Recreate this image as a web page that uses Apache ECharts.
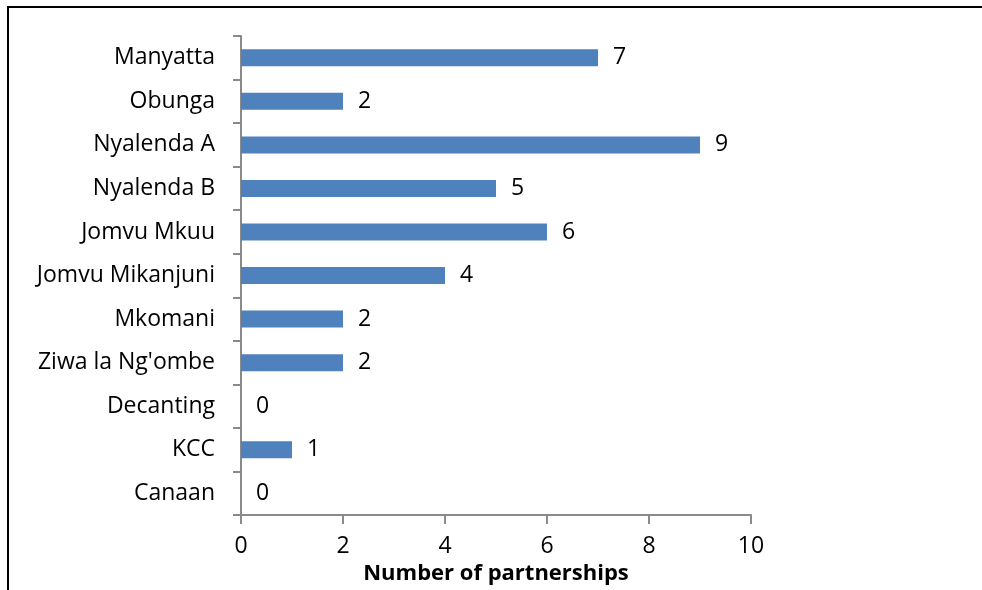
<!DOCTYPE html>
<html>
<head>
<meta charset="utf-8">
<script src="https://cdn.jsdelivr.net/npm/echarts@6/dist/echarts.min.js"></script>
<style>
html,body{margin:0;padding:0;background:#fff;}
#chart{width:982px;height:590px;}
</style>
</head>
<body>
<div id="chart"></div>
<script>
const categories = ["Manyatta", "Obunga", "Nyalenda A", "Nyalenda B", "Jomvu Mkuu", "Jomvu Mikanjuni", "Mkomani", "Ziwa la Ng'ombe", "Decanting", "KCC", "Canaan"];
const partnerships = [7, 2, 9, 5, 6, 4, 2, 2, 0, 1, 0];
const xTicks = [0, 2, 4, 6, 8, 10];
const xTitle = "Number of partnerships";

const font = "'Open Sans', 'Noto Sans', sans-serif";
const axisGray = '#8a8a8a';

const chart = echarts.init(document.getElementById('chart'), null, {renderer: 'canvas'});
chart.setOption({
  animation: false,
  backgroundColor: '#fff',
  grid: {left: 241, right: 231, top: 36, bottom: 74, containLabel: false},
  xAxis: {
    type: 'value',
    min: xTicks[0],
    max: xTicks[xTicks.length - 1],
    interval: xTicks[1] - xTicks[0],
    name: xTitle,
    nameLocation: 'middle',
    nameGap: 44,
    nameTextStyle: {fontFamily: font, fontSize: 22, fontWeight: 'bold', color: '#000'},
    axisLine: {show: true, lineStyle: {color: axisGray, width: 2}},
    axisTick: {show: true, length: 9, lineStyle: {color: axisGray, width: 2}},
    axisLabel: {fontFamily: font, fontSize: 23, color: '#000', margin: 20},
    splitLine: {show: false}
  },
  yAxis: {
    type: 'category',
    data: categories,
    inverse: true,
    axisLine: {show: true, lineStyle: {color: axisGray, width: 2}},
    axisTick: {show: true, length: 8, alignWithLabel: false, lineStyle: {color: axisGray, width: 2}},
    axisLabel: {fontFamily: font, fontSize: 23, color: '#000', margin: 26}
  },
  series: [{
    type: 'bar',
    data: partnerships,
    barWidth: 17,
    itemStyle: {color: '#4F81BD'},
    label: {show: true, position: 'right', distance: 15, fontFamily: font, fontSize: 23, color: '#000'}
  }],
  graphic: [
    {type: 'line', shape: {x1: 8, y1: 7, x2: 982, y2: 7}, style: {stroke: '#000', lineWidth: 2}},
    {type: 'line', shape: {x1: 8, y1: 6, x2: 8, y2: 590}, style: {stroke: '#000', lineWidth: 2}}
  ]
});
</script>
</body>
</html>
